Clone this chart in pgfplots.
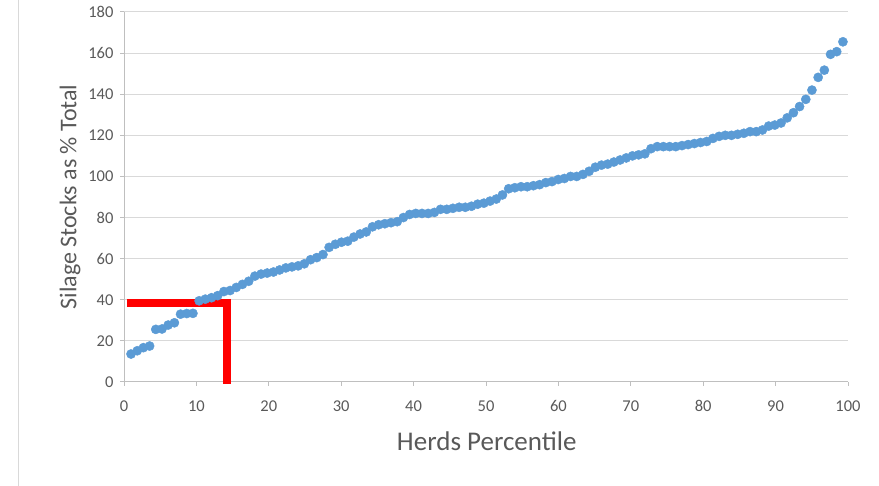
\documentclass[border=0pt]{standalone}
\usepackage{pgfplots}
\pgfplotsset{compat=1.18}
\usepackage{fontspec}
\setmainfont{Carlito}
\definecolor{pt}{HTML}{5B9BD5}
\definecolor{txt}{HTML}{595959}
\definecolor{gridc}{HTML}{D9D9D9}
\definecolor{axl}{HTML}{BFBFBF}
\begin{document}
\begin{tikzpicture}
\useasboundingbox (0pt,0pt) rectangle (879pt,486pt);
\draw[gridc, line width=1pt] (18pt,0pt) -- (18pt,486pt);
\begin{axis}[
  at={(124pt,104pt)}, anchor=south west,
  scale only axis, width=724pt, height=370pt,
  xmin=0, xmax=100, ymin=0, ymax=180,
  xtick={0,10,...,100}, ytick={0,20,...,180},
  axis x line=bottom, axis y line=left,
  axis line style={-, axl, line width=1pt},
  ymajorgrids, grid style={gridc, line width=1pt},
  tick align=outside, major tick length=4pt,
  tick style={axl, line width=1pt},
  tick label style={font=\fontsize{16.5}{18}\selectfont, text=txt},
  /pgf/number format/assume math mode=true,
  xticklabel style={yshift=-15pt, text height=1.5ex, text depth=0.2ex},
  yticklabel style={xshift=-3pt},
  xlabel={Herds Percentile},
  ylabel={Silage Stocks as \% Total},
  xlabel style={font=\fontsize{27}{30}\selectfont, text=txt, at={(axis description cs:0.501,-0.1595)}, anchor=center},
  ylabel style={font=\fontsize{24}{27}\selectfont, text=txt, at={(axis description cs:-0.0746,0.5)}, anchor=center},
  clip=false,
]
\addplot[red, line width=7.7pt, line cap=butt, forget plot] coordinates {(0.37,38.5) (14.75,38.5)};
\addplot[red, line width=7.4pt, line cap=butt, forget plot] coordinates {(14.25,40.4) (14.25,-1)};
\addplot[only marks, mark=*, mark size=4.6pt, mark options={fill=pt, draw=pt}] coordinates {
(0.97,13.6) (1.83,15.2) (2.68,16.7) (3.54,17.5) (4.39,25.6) (5.25,25.8) (6.10,27.7) (6.96,28.8)
(7.81,33.0) (8.67,33.3) (9.52,33.4) (10.38,39.5) (11.23,40.3) (12.09,41.0) (12.94,42.0) (13.80,44.0)
(14.65,44.5) (15.51,46.0) (16.36,47.5) (17.22,49.0) (18.07,51.5) (18.93,52.5) (19.78,53.0) (20.64,53.5)
(21.49,54.5) (22.35,55.5) (23.20,56.0) (24.06,56.5) (24.91,57.5) (25.77,59.5) (26.62,60.5) (27.48,62.0)
(28.33,65.5) (29.19,67.0) (30.04,68.0) (30.90,68.5) (31.75,70.5) (32.61,72.0) (33.46,73.0) (34.32,75.5)
(35.17,76.5) (36.03,77.0) (36.88,77.5) (37.74,78.0) (38.59,80.0) (39.45,81.5) (40.30,82.0) (41.16,82.0)
(42.01,82.0) (42.87,82.5) (43.72,84.0) (44.58,84.0) (45.43,84.5) (46.29,85.0) (47.14,85.0) (48.00,85.5)
(48.85,86.5) (49.71,87.0) (50.56,88.0) (51.42,89.0) (52.27,91.0) (53.13,94.0) (53.98,94.5) (54.84,95.0)
(55.69,95.0) (56.55,95.5) (57.40,96.0) (58.26,97.0) (59.11,97.5) (59.97,98.5) (60.82,99.0) (61.68,100.0)
(62.53,100.0) (63.39,101.0) (64.24,102.5) (65.10,104.5) (65.95,105.5) (66.81,106.0) (67.66,107.0) (68.52,108.0)
(69.37,109.0) (70.23,110.0) (71.08,110.5) (71.94,111.0) (72.79,113.5) (73.65,114.5) (74.50,114.5) (75.36,114.5)
(76.21,114.5) (77.07,115.0) (77.92,115.5) (78.78,116.0) (79.63,116.5) (80.49,117.0) (81.34,118.5) (82.20,119.5)
(83.05,120.0) (83.91,120.0) (84.76,120.5) (85.62,121.0) (86.47,121.8) (87.33,121.8) (88.18,122.6) (89.04,124.5)
(89.89,125.0) (90.75,126.0) (91.60,128.5) (92.46,131.0) (93.31,134.0) (94.17,137.5) (95.02,142.0) (95.88,148.2)
(96.73,151.7) (97.59,159.4) (98.44,160.7) (99.30,165.5)
};
\end{axis}
\end{tikzpicture}
\end{document}
